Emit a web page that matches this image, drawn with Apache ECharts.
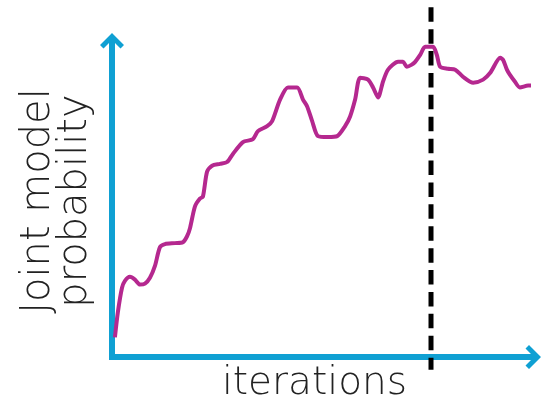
<!DOCTYPE html>
<html>
<head>
<meta charset="utf-8">
<script src="https://cdn.jsdelivr.net/npm/echarts@6/dist/echarts.min.js"></script>
<style>
  html, body { margin: 0; padding: 0; background: #fff; }
  #chart { width: 544px; height: 408px; }
</style>
</head>
<body>
<div id="chart"></div>
<script>
// ── Data (in % of axis length) ───
const iterations = [
  0.7, 1.4, 2.4, 3.1, 4.3, 5.5, 6.7, 7.9, 9.1, 10.3, 11.5, 12.7, 15.1, 17.0,
  18.0, 18.7, 19.9, 21.1, 21.8, 22.8, 24.0, 25.9, 27.6, 29.0, 31.4, 33.8,
  35.0, 37.2, 38.4, 40.3, 42.2, 44.4, 45.8, 46.8, 48.0, 49.4, 51.8, 54.0,
  55.9, 57.1, 58.3, 59.5, 61.4, 62.6, 63.8, 65.0, 66.2, 68.6, 69.8, 70.7,
  71.9, 72.7, 73.9, 75.1, 77.0, 77.9, 78.7, 80.6, 82.3, 84.2, 86.6, 89.0,
  90.7, 93.1, 93.8, 94.7, 95.4, 96.6, 97.8, 99.8, 101.4
];
const probability = [
  6.3, 14.3, 22.2, 24.4, 25.7, 24.8, 23.2, 23.5, 25.4, 29.2, 35.2, 36.2, 36.5, 36.8,
  38.7, 41.3, 48.3, 50.8, 51.4, 59.4, 61.3, 61.9, 62.5, 65.1, 68.9, 69.8,
  72.4, 74.0, 75.6, 82.5, 86.4, 86.4, 82.5, 80.3, 75.6, 70.8, 70.5, 70.8,
  74.0, 77.1, 82.5, 89.5, 88.9, 86.4, 83.2, 88.3, 92.1, 94.6, 94.6, 93.0,
  93.7, 94.6, 96.8, 99.4, 99.4, 96.8, 93.0, 92.4, 92.1, 89.8, 87.9, 88.9,
  91.1, 95.9, 95.2, 92.1, 90.5, 88.3, 86.4, 87.0, 87.0
];
// vertical stopping marker
const stopIteration = 76.5;
const stopSpan      = [112.1, -4.1];

// ── Style ──────────────────────────────────────────────
const AXIS_COLOR = '#0fa0d3';
const LINE_COLOR = '#b5288f';
const TEXT_COLOR = '#222222';
const FONT       = "'DejaVu Sans', sans-serif";
// open chevron with a short stem, pointing up (rotated by the axis)
const ARROW = 'path://M0,0 L12,12 L8.5,15.5 L3,10 L3,24 L-3,24 L-3,10 L-8.5,15.5 L-12,12 Z';

const chart = echarts.init(document.getElementById('chart'));

const axisLine = {
  show: true,
  symbol: ['none', ARROW],
  symbolSize: [24, 24],
  lineStyle: { color: AXIS_COLOR, width: 6, cap: 'square' },
};

chart.setOption({
  animation: false,
  backgroundColor: '#ffffff',
  grid: { left: 112, right: 15, top: 45, bottom: 48 },
  xAxis: {
    type: 'value',
    min: 0,
    max: 100,
    name: 'iterations',
    nameLocation: 'middle',
    nameGap: 7,
    nameTextStyle: { color: TEXT_COLOR, fontFamily: FONT, fontSize: 39, fontWeight: 200,
                     verticalAlign: 'top', padding: [0, 12, 0, 0] },
    axisLine: axisLine,
    axisTick: { show: false },
    axisLabel: { show: false },
    splitLine: { show: false },
  },
  yAxis: {
    type: 'value',
    min: 0,
    max: 100,
    name: 'Joint model\nprobability',
    nameLocation: 'middle',
    nameGap: 18,
    nameTextStyle: { color: TEXT_COLOR, fontFamily: FONT, fontSize: 40, fontWeight: 200,
                     lineHeight: 37 },
    axisLine: axisLine,
    axisTick: { show: false },
    axisLabel: { show: false },
    splitLine: { show: false },
  },
  series: [
    {
      type: 'line',
      data: iterations.map((x, i) => [x, probability[i]]),
      showSymbol: false,
      smooth: 0.25,
      clip: false,
      lineStyle: { color: LINE_COLOR, width: 4 },
      z: 3,
    },
    {
      type: 'line',
      data: stopSpan.map(y => [stopIteration, y]),
      showSymbol: false,
      clip: false,
      lineStyle: { color: '#000000', width: 5, type: [14.5, 7.4] },
      z: 4,
    },
  ],
});
</script>
</body>
</html>
